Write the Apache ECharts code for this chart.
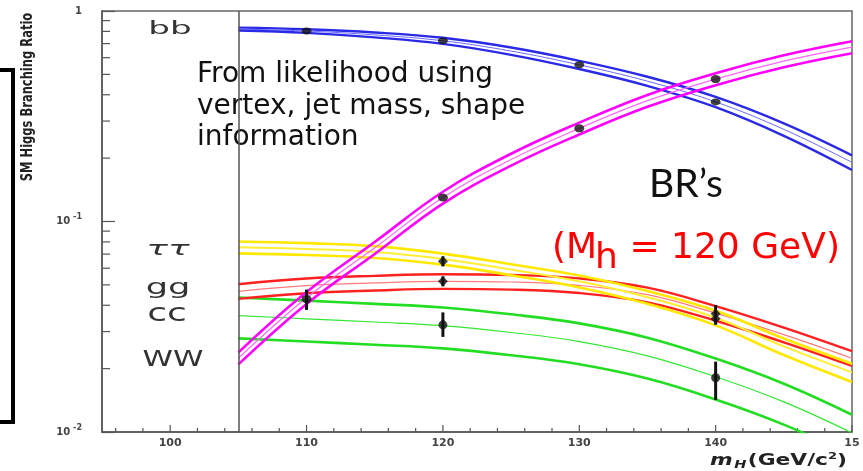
<!DOCTYPE html>
<html>
<head>
<meta charset="utf-8">
<script src="https://cdn.jsdelivr.net/npm/echarts@6/dist/echarts.min.js"></script>
<style>
  html, body { margin: 0; padding: 0; background: #fff; }
  #chart { width: 863px; height: 471px; }
</style>
</head>
<body>
<div id="chart"></div>
<script>
// Higgs 分支比曲线
const masses = [105, 110, 115, 120, 125, 130, 135, 140, 145, 150];
const bbMid = [0.821, 0.803, 0.770, 0.722, 0.645, 0.555, 0.464, 0.370, 0.274, 0.191];
const bbErr = [0.016, 0.02, 0.027, 0.033, 0.04, 0.045, 0.05, 0.056, 0.068, 0.08];
const wwMid = [0.0224, 0.0434, 0.075, 0.130, 0.197, 0.277, 0.375, 0.475, 0.578, 0.674];
const wwErr = 0.065;
const tauMid = [0.0755, 0.0741, 0.0717, 0.0664, 0.0591, 0.0520, 0.0437, 0.0349, 0.0255, 0.0192];
const tauErr = [0.065, 0.065, 0.065, 0.06, 0.06, 0.065, 0.07, 0.08, 0.09, 0.1];
const ggMid = [0.0466, 0.0496, 0.0511, 0.0520, 0.0516, 0.0497, 0.0449, 0.0367, 0.0290, 0.0224];
const ggErr = 0.08;
const ccMid = [0.0357, 0.0345, 0.0333, 0.0320, 0.0297, 0.0269, 0.0230, 0.0183, 0.0139, 0.0099];
const ccErr = 0.22;

// 测量点
const bbPts = [[110, 0.803], [120, 0.722], [130, 0.555], [140, 0.370]];
const wwPts = [[110, 0.0428], [120, 0.130], [130, 0.277], [140, 0.475]];
const tauPts = [[120, 0.0647], [140, 0.0345]];
const ggPts = [[120, 0.0520], [140, 0.0365]];
const ccPts = [[120, 0.0323], [140, 0.0181]];
// [质量, 下限, 上限]
const errBars = [
  [110, 0.0380, 0.0475],
  [120, 0.0612, 0.0684],
  [120, 0.0492, 0.0549],
  [120, 0.0283, 0.0370],
  [140, 0.0323, 0.0401],
  [140, 0.0142, 0.0216]
];

// 刻度
const xMajor = [100, 110, 120, 130, 140, 150];
const xMinor = [96, 98, 102, 104, 106, 108, 112, 114, 116, 118, 122, 124, 126, 128,
  132, 134, 136, 138, 142, 144, 146, 148];
const yMinor = [0.02, 0.03, 0.04, 0.05, 0.06, 0.07, 0.08, 0.09,
  0.2, 0.3, 0.4, 0.5, 0.6, 0.7, 0.8, 0.9];

const tickFont = 'DejaVu Sans';

function band(mid, err, color, midColor, w, mw) {
  const e = i => (Array.isArray(err) ? err[i] : err);
  const mk = (f, c, lw) => ({
    type: 'line',
    smooth: 0.4,
    symbol: 'none',
    silent: true,
    data: masses.map((m, i) => [m, mid[i] * f(i)]),
    lineStyle: { color: c, width: lw }
  });
  return [mk(i => 1 + e(i), color, w), mk(() => 1, midColor, mw), mk(i => 1 - e(i), color, w)];
}

function dots(data, symbol, size) {
  return {
    type: 'scatter',
    data: data,
    symbol: symbol,
    symbolSize: size,
    itemStyle: { color: '#111' },
    z: 5
  };
}

const myChart = echarts.init(document.getElementById('chart'));

const option = {
  animation: false,
  backgroundColor: '#fff',
  grid: {
    left: 102, right: 11, top: 11, bottom: 39,
    show: true, borderColor: '#666', borderWidth: 1.5
  },
  xAxis: {
    type: 'value',
    min: 95,
    max: 150,
    interval: 5,
    axisLine: { lineStyle: { color: '#555', width: 1.5 } },
    axisTick: { show: false },
    splitLine: { show: false },
    axisLabel: {
      margin: 6,
      color: '#444',
      fontFamily: tickFont,
      fontWeight: 'bold',
      fontSize: 11,
      formatter(v) {
        if (xMajor.indexOf(v) < 0) return '';
        return v === 150 ? '15' : String(v);
      }
    }
  },
  yAxis: {
    type: 'log',
    logBase: 10,
    min: 0.01,
    max: 1,
    axisLine: { lineStyle: { color: '#555', width: 1.5 } },
    axisTick: { inside: true, length: 13, lineStyle: { color: '#555', width: 1.2 } },
    splitLine: { show: false },
    axisLabel: {
      margin: 20,
      color: '#444',
      formatter(v) {
        const p = Math.round(Math.log10(v));
        return p === 0 ? '{b|1}' : '{b|10}{s|' + p + '}';
      },
      rich: {
        b: { fontFamily: tickFont, fontWeight: 'bold', fontSize: 10, color: '#444' },
        s: { fontFamily: tickFont, fontWeight: 'bold', fontSize: 8, color: '#444', padding: [0, 0, 9, 3] }
      }
    }
  },
  graphic: [
    {
      type: 'polyline',
      shape: { points: [[0, 70], [13, 70], [13, 422], [0, 422]] },
      style: { stroke: '#000', lineWidth: 4, fill: null }
    },
    {
      type: 'text', x: 28, y: 97, rotation: Math.PI / 2, scaleX: 0.8,
      style: {
        text: 'SM Higgs Branching Ratio',
        font: 'bold 16px "DejaVu Sans Condensed", "DejaVu Sans", sans-serif',
        fill: '#222', textAlign: 'center', textVerticalAlign: 'middle'
      }
    },
    { type: 'text', x: 170, y: 29, scaleX: 1.9,
      style: { text: 'bb', font: '18px "DejaVu Sans"', fill: '#333', textAlign: 'center', textVerticalAlign: 'middle' } },
    { type: 'text', x: 168, y: 250, scaleX: 1.8,
      style: { text: 'ττ', font: 'italic 20px "DejaVu Sans"', fill: '#333', textAlign: 'center', textVerticalAlign: 'middle' } },
    { type: 'text', x: 168, y: 288, scaleX: 1.6,
      style: { text: 'gg', font: '22px "DejaVu Sans"', fill: '#333', textAlign: 'center', textVerticalAlign: 'middle' } },
    { type: 'text', x: 167, y: 315, scaleX: 1.5,
      style: { text: 'cc', font: '24px "DejaVu Sans"', fill: '#333', textAlign: 'center', textVerticalAlign: 'middle' } },
    { type: 'text', x: 173, y: 360, scaleX: 1.4,
      style: { text: 'WW', font: '22px "DejaVu Sans"', fill: '#333', textAlign: 'center', textVerticalAlign: 'middle' } },
    {
      type: 'text', x: 197, y: 59,
      style: {
        text: 'From likelihood using\nvertex, jet mass, shape\ninformation',
        font: '28px "DejaVu Sans"', lineHeight: 31.5, fill: '#111',
        textAlign: 'left', textVerticalAlign: 'top'
      }
    },
    { type: 'text', x: 686, y: 184,
      style: { text: 'BR\u2019s', font: '39px Lato', fill: '#111', textAlign: 'center', textVerticalAlign: 'middle' } },
    { type: 'text', x: 552, y: 249,
      style: { text: '(M', font: '36px "DejaVu Sans"', fill: '#ff0000', textAlign: 'left', textVerticalAlign: 'middle' } },
    { type: 'text', x: 595, y: 259,
      style: { text: 'h', font: '36px "DejaVu Sans"', fill: '#ff0000', textAlign: 'left', textVerticalAlign: 'middle' } },
    { type: 'text', x: 618, y: 249,
      style: { text: ' = 120 GeV)', font: '36px "DejaVu Sans"', fill: '#ff0000', textAlign: 'left', textVerticalAlign: 'middle' } },
    {
      type: 'text', x: 847, y: 461, scaleX: 1.45,
      style: {
        text: '{m|m}{h|H}{t|(GeV/c}{s|2}{t|)}',
        textAlign: 'right', textVerticalAlign: 'middle',
        rich: {
          m: { fontFamily: tickFont, fontStyle: 'italic', fontWeight: 'bold', fontSize: 15, fill: '#222' },
          h: { fontFamily: tickFont, fontStyle: 'italic', fontWeight: 'bold', fontSize: 10, fill: '#222', padding: [8, 1, 0, 1] },
          t: { fontFamily: tickFont, fontWeight: 'bold', fontSize: 15, fill: '#222' },
          s: { fontFamily: tickFont, fontWeight: 'bold', fontSize: 9, fill: '#222', padding: [0, 0, 9, 0] }
        }
      }
    }
  ],
  series: [
    // 左侧分隔线 + 刻度
    {
      type: 'line',
      data: [],
      markLine: {
        silent: true,
        symbol: 'none',
        label: { show: false },
        lineStyle: { color: '#555', width: 1.5, type: 'solid' },
        data: [{ xAxis: 105 }]
      }
    },
    {
      type: 'custom',
      silent: true,
      data: xMajor.concat(xMinor).map(v => [v, 0.01]),
      renderItem(params, api) {
        const v = api.value(0);
        const p = api.coord([v, 0.01]);
        const len = xMajor.indexOf(v) >= 0 ? 7 : 4;
        return {
          type: 'line',
          shape: { x1: p[0], y1: p[1], x2: p[0], y2: p[1] - len },
          style: { stroke: '#555', lineWidth: 1.2 }
        };
      }
    },
    {
      type: 'custom',
      silent: true,
      data: yMinor.map(v => [95, v]),
      renderItem(params, api) {
        const p = api.coord([95, api.value(1)]);
        return {
          type: 'line',
          shape: { x1: p[0], y1: p[1], x2: p[0] + 8, y2: p[1] },
          style: { stroke: '#555', lineWidth: 1.2 }
        };
      }
    },
    ...band(ccMid, ccErr, '#22dd22', '#33e633', 2.6, 1.2),
    ...band(ggMid, ggErr, '#ff2020', '#ff7a7a', 2.4, 1.2),
    ...band(tauMid, tauErr, '#ffe800', '#ffee33', 2.6, 2),
    ...band(bbMid, bbErr, '#2a2ae6', '#6a6aff', 2.4, 1),
    ...band(wwMid, wwErr, '#ff00ff', '#ff66ff', 2.6, 1.2),
    {
      type: 'custom',
      silent: true,
      data: errBars,
      encode: { x: 0, y: [1, 2] },
      z: 5,
      renderItem(params, api) {
        const lo = api.coord([api.value(0), api.value(1)]);
        const hi = api.coord([api.value(0), api.value(2)]);
        return {
          type: 'line',
          shape: { x1: lo[0], y1: lo[1], x2: hi[0], y2: hi[1] },
          style: { stroke: '#111', lineWidth: 3 }
        };
      }
    },
    dots(bbPts, 'circle', [10, 7]),
    dots(wwPts, 'circle', [10, 8]),
    dots(tauPts, 'diamond', [10, 10]),
    dots(ggPts, 'diamond', [10, 10]),
    dots(ccPts, 'circle', [9, 9])
  ]
};

myChart.setOption(option);
</script>
</body>
</html>
